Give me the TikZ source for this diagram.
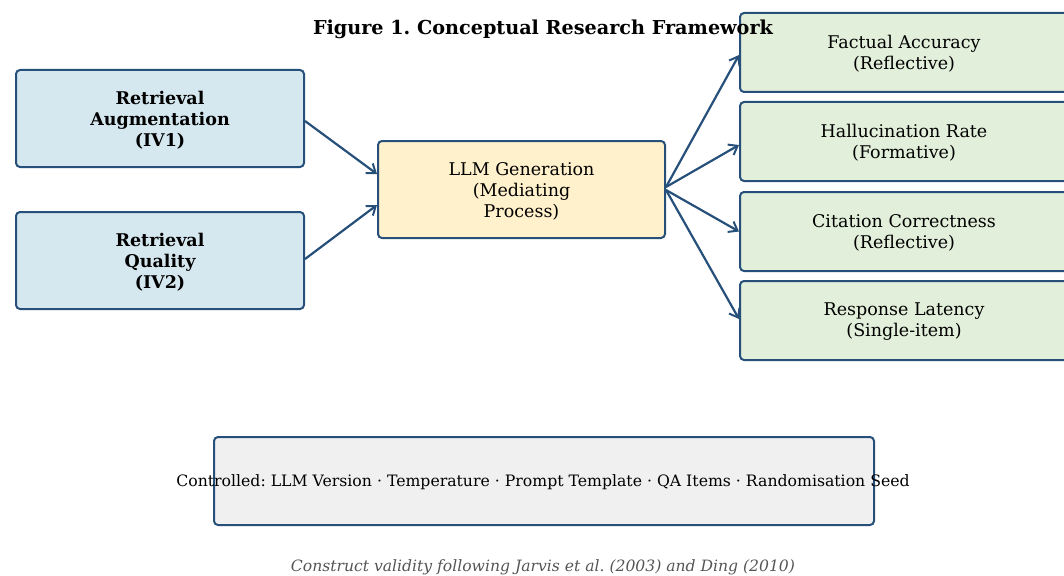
\documentclass[tikz,border=0pt]{standalone}
\usepackage{fontspec}
\setmainfont{DejaVu Serif}
\usetikzlibrary{arrows.meta,calc}
\definecolor{edge}{HTML}{26507A}
\definecolor{ivfill}{HTML}{D5E7EF}
\definecolor{medfill}{HTML}{FFF1CC}
\definecolor{dvfill}{HTML}{E2EFDA}
\definecolor{ctlfill}{HTML}{F0F0F0}
\definecolor{capgray}{HTML}{555555}
\frenchspacing
\begin{document}
\begin{tikzpicture}[x=1pt,y=-1pt,
  box/.style={draw=edge,line width=2pt,rounded corners=4pt,align=center,inner sep=0pt},
  conn/.style={draw=edge,line width=2.2pt,-{Straight Barb[length=8pt,width=12pt,line width=2pt]}},
  bodytxt/.style={font=\fontsize{17.5}{21}\selectfont},
  boldtxt/.style={font=\bfseries\fontsize{17.5}{21}\selectfont}]
\useasboundingbox (0,0) rectangle (1064,575);
\node[box,fill=ivfill,minimum width=288pt,minimum height=97pt] (iv1) at (160,118.5) {};
\node[box,fill=ivfill,minimum width=288pt,minimum height=97pt] (iv2) at (160,260.5) {};
\node[box,fill=medfill,minimum width=287pt,minimum height=97pt] (llm) at (521.5,189.5) {};
\node[boldtxt,align=center] (iv1t) at (160,120) {Retrieval\\Augmentation\\(IV1)};
\node[boldtxt,align=center] (iv2t) at (160,262) {Retrieval\\Quality\\(IV2)};
\node[bodytxt,align=center] (llmt) at (521.5,191) {LLM Generation\\(Mediating\\Process)};
\node[box,fill=dvfill,minimum width=330pt,minimum height=79pt,anchor=west] (d1) at (739,52.5) {};
\node[box,fill=dvfill,minimum width=330pt,minimum height=79pt,anchor=west] (d2) at (739,141.5) {};
\node[box,fill=dvfill,minimum width=330pt,minimum height=79pt,anchor=west] (d3) at (739,231.5) {};
\node[box,fill=dvfill,minimum width=330pt,minimum height=79pt,anchor=west] (d4) at (739,320.5) {};
\node[bodytxt,align=center] (t1) at (904,53.5) {Factual Accuracy\\(Reflective)};
\node[bodytxt,align=center] (t2) at (904,142.5) {Hallucination Rate\\(Formative)};
\node[bodytxt,align=center] (t3) at (904,232.5) {Citation Correctness\\(Reflective)};
\node[bodytxt,align=center] (t4) at (904,321.5) {Response Latency\\(Single-item)};
\node[box,fill=ctlfill,minimum width=660pt,minimum height=88pt] (ctl) at (544,481) {};
\node[font=\fontsize{15.7}{18}\selectfont] (ctltxt) at (543,482.5) {Controlled: LLM Version · Temperature · Prompt Template · QA Items · Randomisation Seed};
\node[font=\itshape\fontsize{15.6}{18}\selectfont,text=capgray] (cap) at (543,567.5) {Construct validity following Jarvis et al. (2003) and Ding (2010)};
\node[font=\bfseries\fontsize{19.2}{22}\selectfont] (title) at (543,29) {Figure 1. Conceptual Research Framework};
\coordinate (s1) at ($(iv1.east)+(0,2.5)$);
\coordinate (s2) at ($(iv2.east)+(0,-1.5)$);
\coordinate (e1) at ($(llm.west)+(0,-15.5)$);
\coordinate (e2) at ($(llm.west)+(0,15.5)$);
\coordinate (m1) at ($(llm.east)+(0,-2.5)$);
\coordinate (m2) at ($(llm.east)+(0,0.5)$);
\draw[conn] (s1) -- (e1);
\draw[conn] (s2) -- (e2);
\draw[conn] (m1) -- ($(d1.west)+(0,2.5)$);
\draw[conn] (m1) -- ($(d2.west)+(0,3.5)$);
\draw[conn] (m2) -- (d3.west);
\draw[conn] (m2) -- ($(d4.west)+(0,-1.5)$);
\end{tikzpicture}
\end{document}
